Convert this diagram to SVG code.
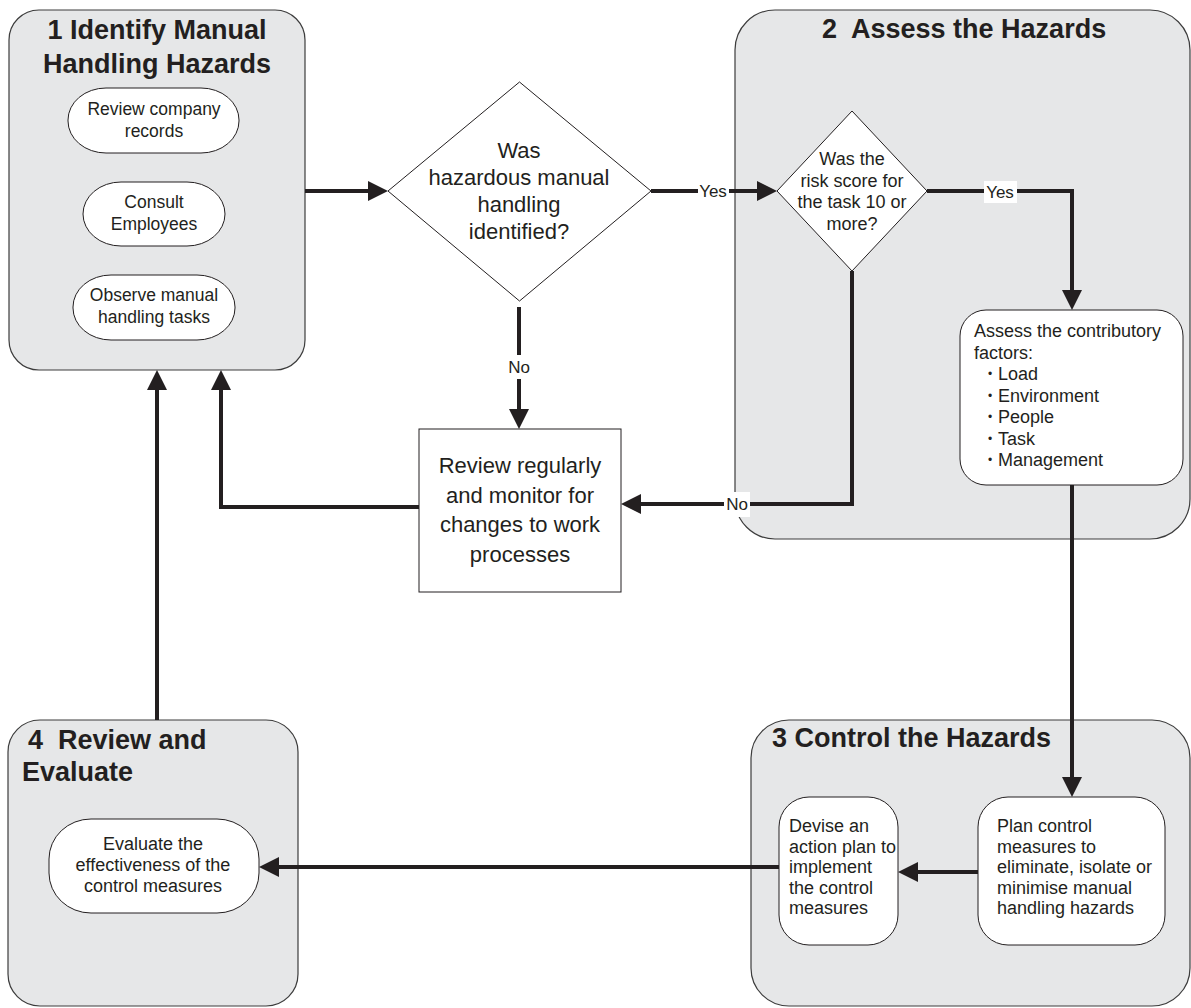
<svg xmlns="http://www.w3.org/2000/svg" width="1191" height="1008" viewBox="0 0 1191 1008">
<defs>
<style>
.stage{fill:#e6e7e8;stroke:#3c3c3c;stroke-width:1.2}
.inner{fill:#ffffff;stroke:#231f20;stroke-width:1}
.title{font-family:"Liberation Sans",Arial,sans-serif;font-weight:bold;font-size:27px;fill:#231f20;white-space:pre}
.t{font-family:"Liberation Sans",Arial,sans-serif;fill:#231f20}
.c{text-anchor:middle}
.f17{font-size:17.5px}
.f18{font-size:18px}
.f22{font-size:22px}
.bul{font-family:"Liberation Sans",Arial,sans-serif;font-size:12px;fill:#231f20}
.lbl{font-family:"Liberation Sans",Arial,sans-serif;font-size:17px;fill:#231f20;text-anchor:middle}
.conn{fill:none;stroke:#231f20;stroke-width:4;marker-end:url(#ah)}
.lblbg{fill:#ffffff}
</style>
<marker id="ah" viewBox="0 0 20 20" refX="2" refY="10" markerWidth="20" markerHeight="20" markerUnits="userSpaceOnUse" orient="auto">
<path d="M0,0 L20,10 L0,20 z" fill="#231f20"/>
</marker>
</defs>
<rect width="1191" height="1008" fill="#ffffff"/>

<g id="stage1">
<rect class="stage" x="9" y="10" width="296" height="360" rx="30" ry="30"/>
<text class="title c" x="157" y="39">1 Identify Manual</text>
<text class="title c" x="157" y="73">Handling Hazards</text>
</g>
<g id="n-review-records">
<rect class="inner" x="68" y="88" width="171" height="65" rx="38" ry="32"/>
<text class="t c f17" x="154" y="115">Review company</text>
<text class="t c f17" x="154" y="137">records</text>
</g>
<g id="n-consult">
<rect class="inner" x="83" y="182" width="142" height="64" rx="38" ry="32"/>
<text class="t c f17" x="154" y="208">Consult</text>
<text class="t c f17" x="154" y="230">Employees</text>
</g>
<g id="n-observe">
<rect class="inner" x="73" y="275" width="162" height="65" rx="38" ry="32"/>
<text class="t c f17" x="154" y="301">Observe manual</text>
<text class="t c f17" x="154" y="323">handling tasks</text>
</g>

<g id="stage2">
<rect class="stage" x="735" y="10" width="455" height="529" rx="40" ry="40"/>
<text class="title" x="822" y="38">2  Assess the Hazards</text>
</g>
<g id="stage3">
<rect class="stage" x="751" y="720" width="439" height="286" rx="38" ry="38"/>
<text class="title" x="772" y="747">3 Control the Hazards</text>
</g>
<g id="stage4">
<rect class="stage" x="8" y="720" width="290" height="286" rx="32" ry="32"/>
<text class="title" x="28" y="749">4  Review and</text>
<text class="title" x="22" y="781">Evaluate</text>
</g>

<g id="d-hazardous">
<polygon class="inner" points="519.5,82 651,191 519.5,301 388,191"/>
<text class="t c f22" x="519" y="158">Was</text>
<text class="t c f22" x="519" y="185">hazardous manual</text>
<text class="t c f22" x="519" y="212">handling</text>
<text class="t c f22" x="519" y="239">identified?</text>
</g>
<g id="d-risk">
<polygon class="inner" points="852,111 927,191 852,271 777,191"/>
<text class="t c f18" x="852" y="165">Was the</text>
<text class="t c f18" x="852" y="186.5">risk score for</text>
<text class="t c f18" x="852" y="208">the task 10 or</text>
<text class="t c f18" x="852" y="229.5">more?</text>
</g>
<g id="n-review-monitor">
<rect class="inner" x="419" y="429" width="202" height="163"/>
<text class="t c f22" x="520" y="473">Review regularly</text>
<text class="t c f22" x="520" y="503">and monitor for</text>
<text class="t c f22" x="520" y="532">changes to work</text>
<text class="t c f22" x="520" y="562">processes</text>
</g>
<g id="n-contributory">
<rect class="inner" x="960" y="310" width="223" height="175" rx="26" ry="26"/>
<text class="t f18" x="974" y="337">Assess the contributory</text>
<text class="t f18" x="974" y="358.5">factors:</text>
<text class="bul" x="988" y="378">•</text><text class="t f18" x="998" y="380">Load</text>
<text class="bul" x="988" y="399.5">•</text><text class="t f18" x="998" y="401.5">Environment</text>
<text class="bul" x="988" y="421">•</text><text class="t f18" x="998" y="423">People</text>
<text class="bul" x="988" y="442.5">•</text><text class="t f18" x="998" y="444.5">Task</text>
<text class="bul" x="988" y="464">•</text><text class="t f18" x="998" y="466">Management</text>
</g>
<g id="n-plan">
<rect class="inner" x="978" y="797" width="187" height="148" rx="30" ry="30"/>
<text class="t f18" x="997" y="832">Plan control</text>
<text class="t f18" x="997" y="852.5">measures to</text>
<text class="t f18" x="997" y="873">eliminate, isolate or</text>
<text class="t f18" x="997" y="893.5">minimise manual</text>
<text class="t f18" x="997" y="914">handling hazards</text>
</g>
<g id="n-devise">
<rect class="inner" x="779" y="797" width="119" height="148" rx="30" ry="30"/>
<text class="t f18" x="789" y="832">Devise an</text>
<text class="t f18" x="789" y="852.5">action plan to</text>
<text class="t f18" x="789" y="873">implement</text>
<text class="t f18" x="789" y="893.5">the control</text>
<text class="t f18" x="789" y="914">measures</text>
</g>
<g id="n-evaluate">
<rect class="inner" x="49" y="819" width="210" height="94" rx="42" ry="40"/>
<text class="t c f18" x="153" y="850">Evaluate the</text>
<text class="t c f18" x="153" y="871">effectiveness of the</text>
<text class="t c f18" x="153" y="892">control measures</text>
</g>

<g id="connectors">
<path class="conn" d="M305,191 H370"/>
<path class="conn" d="M651,191 H759"/>
<path class="conn" d="M927,191 H1072 V292"/>
<path class="conn" d="M519,307 V411"/>
<path class="conn" d="M852,271 V504 H639"/>
<path class="conn" d="M419,507 H221 V388"/>
<path class="conn" d="M157,720 V388"/>
<path class="conn" d="M1072,485 V779"/>
<path class="conn" d="M978,872 H916"/>
<path class="conn" d="M779,867 H277"/>
<rect class="lblbg" x="698" y="181" width="31" height="20"/>
<text class="lbl" x="713" y="197">Yes</text>
<rect class="lblbg" x="984" y="181" width="33" height="22"/>
<text class="lbl" x="1000" y="198">Yes</text>
<rect class="lblbg" x="507" y="355" width="24" height="24"/>
<text class="lbl" x="519" y="373">No</text>
<rect class="lblbg" x="724" y="492" width="26" height="25"/>
<text class="lbl" x="737" y="510">No</text>
</g>
</svg>
